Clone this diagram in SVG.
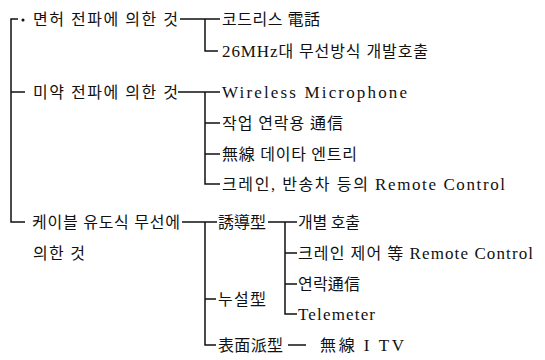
<svg xmlns="http://www.w3.org/2000/svg" width="545" height="360" viewBox="0 0 545 360">
<style>
text{font-family:"Liberation Serif","Noto Sans CJK KR",serif;font-size:16px;fill:#111}
.l{font-size:17px}
.c{fill:none;stroke:#111;stroke-width:1.5}
</style>
<rect width="545" height="360" fill="#fff"/>
<g id="connectors" class="c">
<path d="M18,19 H11 V222 H25"/>
<path d="M11,92 H25"/>
<circle cx="23" cy="20" r="0.8" fill="#111"/>
<path d="M180,19 H220 M205,19 V51 H218"/>
<path d="M178,92 H220 M205,92 V184 H220 M205,123 H220 M205,154 H220"/>
<path d="M182,222 H217 M205,222 V345 H216 M205,299 H216"/>
<path d="M268,222 H297 M285,222 V314 H297 M285,253 H297 M285,284 H297"/>
<path d="M288,345 H306"/>
</g>
<g id="n-myeonheo"><text x="33" y="25" textLength="145" lengthAdjust="spacing">면허 전파에 의한 것</text></g>
<g id="n-cordless"><text x="222" y="25" textLength="98" lengthAdjust="spacing">코드리스 電話</text></g>
<g id="n-26mhz"><text x="222" y="57" textLength="206" lengthAdjust="spacing"><tspan class="l">26MHz</tspan>대 무선방식 개발호출</text></g>
<g id="n-miyak"><text x="33" y="98" textLength="145" lengthAdjust="spacing">미약 전파에 의한 것</text></g>
<g id="n-wireless"><text class="l" x="222" y="98" textLength="185" lengthAdjust="spacing">Wireless Microphone</text></g>
<g id="n-jakeop"><text x="222" y="129" textLength="121" lengthAdjust="spacing">작업 연락용 通信</text></g>
<g id="n-data"><text x="222" y="160" textLength="135" lengthAdjust="spacing">無線 데이타 엔트리</text></g>
<g id="n-crane"><text x="222" y="190" textLength="283" lengthAdjust="spacing">크레인, 반송차 등의 <tspan class="l">Remote Control</tspan></text></g>
<g id="n-cable"><text x="32" y="228" textLength="148" lengthAdjust="spacing">케이블 유도식 무선에</text><text x="33" y="259" textLength="52" lengthAdjust="spacing">의한 것</text></g>
<g id="n-yudo"><text x="218" y="228" textLength="48" lengthAdjust="spacing">誘導型</text></g>
<g id="n-gaebyeol"><text x="298" y="228" textLength="62" lengthAdjust="spacing">개별 호출</text></g>
<g id="n-crane2"><text x="298" y="259" textLength="235" lengthAdjust="spacing">크레인 제어 等 <tspan class="l">Remote Control</tspan></text></g>
<g id="n-yeonrak"><text x="298" y="290" textLength="62" lengthAdjust="spacing">연락通信</text></g>
<g id="n-nuseol"><text x="218" y="305" textLength="48" lengthAdjust="spacing">누설型</text></g>
<g id="n-telemeter"><text class="l" x="298" y="320" textLength="77" lengthAdjust="spacing">Telemeter</text></g>
<g id="n-pyomyeon"><text x="218" y="351" textLength="65" lengthAdjust="spacing">表面派型</text></g>
<g id="n-itv"><text x="320" y="351" textLength="84" lengthAdjust="spacing">無線 <tspan class="l">I TV</tspan></text></g>
</svg>
